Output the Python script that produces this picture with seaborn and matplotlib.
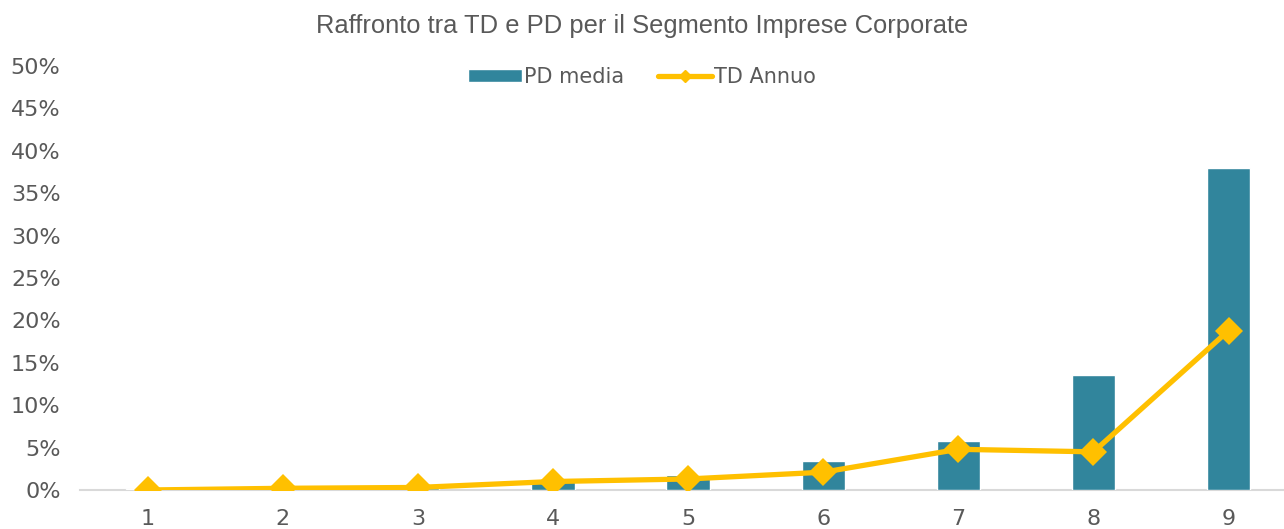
import matplotlib
matplotlib.use("Agg")
import matplotlib.pyplot as plt
import seaborn as sns
import numpy as np
import pandas as pd
from matplotlib.patches import Patch
from matplotlib.lines import Line2D
from matplotlib.ticker import PercentFormatter

# rating classes and values
classi = ['1', '2', '3', '4', '5', '6', '7', '8', '9']
pd_media = [0.0015, 0.001, 0.002, 0.011, 0.018, 0.034, 0.058, 0.136, 0.380]
td_annuo = [0.000, 0.002, 0.003, 0.010, 0.013, 0.021, 0.048, 0.045, 0.188]

TEAL = '#31859C'
GOLD = '#FFC000'
GREY = '#595959'

df = pd.DataFrame({'classe': classi, 'PD media': pd_media, 'TD Annuo': td_annuo})

sns.set_theme(style='white')
plt.rcParams['font.family'] = ['DejaVu Sans']

fig = plt.figure(figsize=(12.84, 5.29), dpi=100)
ax = fig.add_axes([80 / 1284, 39 / 529, 1204 / 1284, 424 / 529])

sns.barplot(data=df, x='classe', y='PD media', color=TEAL, width=0.32,
            saturation=1, ax=ax, zorder=2)
sns.lineplot(x=np.arange(len(classi)), y=td_annuo, color=GOLD, lw=3.8,
             marker='D', markersize=14, markeredgewidth=0, ax=ax, zorder=3)

ax.set_xlim(-0.5, 8.41)
ax.set_ylim(0, 0.5)
ax.set_yticks(np.arange(0, 0.51, 0.05))
ax.yaxis.set_major_formatter(PercentFormatter(1.0, decimals=0))
ax.set_xlabel('')
ax.set_ylabel('')
ax.tick_params(axis='both', colors=GREY, labelsize=16, length=0)
ax.tick_params(axis='x', pad=14)
ax.tick_params(axis='y', pad=14)

for s in ['top', 'right', 'left']:
    ax.spines[s].set_visible(False)
ax.spines['bottom'].set_color('#D9D9D9')
ax.spines['bottom'].set_linewidth(1.5)
ax.spines['bottom'].set_zorder(1)

fig.text(0.5, 0.950, 'Raffronto tra TD e PD per il Segmento Imprese Corporate',
         ha='center', va='center', fontsize=18.4, color=GREY,
         family='Liberation Sans')

# legend centred on the whole figure, like the original
handles = [Patch(facecolor=TEAL, label='PD media'),
           Line2D([0], [0], color=GOLD, lw=3.8, marker='D', markersize=6,
                  label='TD Annuo')]
leg = ax.legend(handles=handles, loc='center', bbox_to_anchor=(0.5, 1 - 77 / 529),
                bbox_transform=fig.transFigure,
                ncol=2, frameon=False, fontsize=15, handlelength=2.6,
                handleheight=0.55, columnspacing=1.6, handletextpad=0.1,
                borderpad=0)
for t in leg.get_texts():
    t.set_color(GREY)

fig.savefig('out.png', dpi=100)
